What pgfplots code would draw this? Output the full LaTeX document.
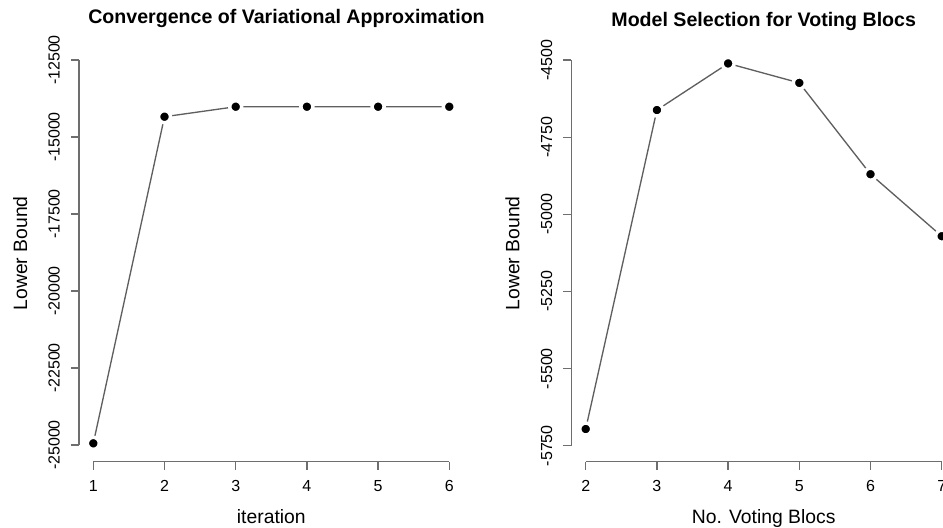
\documentclass[border=0pt]{standalone}
\usepackage{fontspec}
\setmainfont{Liberation Sans}
\usepackage{pgfplots}
\pgfplotsset{compat=1.18}

\definecolor{axgray}{RGB}{110,110,110}
\definecolor{lngray}{RGB}{95,95,95}

% R-like base graphics look: detached left/bottom axes, outward ticks
\pgfplotsset{rplot/.style={
  scale only axis, width=288.36pt, height=312.5pt,
  anchor=south west,
  axis x line*=bottom, axis y line*=left,
  axis line style={draw=none},
  scaled ticks=false,
  tick align=outside, major tick length=6pt,
  tick style={axgray, line width=1pt},
  ticklabel style={font=\fontsize{12}{14}\selectfont, inner sep=0pt},
  xticklabel style={anchor=base, yshift=-16.5pt},
  yticklabel style={rotate=90, anchor=base},
  yticklabel shift=8.5pt,
  xlabel style={font=\fontsize{14.5}{17}\selectfont,
    at={([yshift=-46.5pt]axis description cs:0.5,0)}, anchor=base},
  ylabel style={font=\fontsize{14.5}{17}\selectfont,
    at={([xshift=-39pt]axis description cs:0,0.5)}, anchor=base},
  title style={font=\bfseries\fontsize{14.7}{17}\selectfont, anchor=base},
  clip=false,
}}
% type="b" look: white halo leaves a gap between line and point
\pgfplotsset{rline/.style={lngray, line width=1pt, mark=*, mark size=4.5pt,
  mark options={fill=black, draw=white, line width=2.6pt}}}

\begin{document}
\begin{tikzpicture}
\useasboundingbox (0,0) rectangle (707.25pt,396pt);

% Left: convergence of the lower bound
\begin{axis}[rplot,
  at={(59.30pt,49.725pt)},
  xmin=0.8, xmax=6.2, ymin=-25542, ymax=-12013,
  xtick={1,2,3,4,5,6},
  xticklabels={1,2,3,4,5,6},
  ytick={-25000,-22500,-20000,-17500,-15000,-12500},
  yticklabels={-25000,-22500,-20000,-17500,-15000,-12500},
  xlabel={iteration}, ylabel={Lower Bound},
  title={Convergence of Variational Approximation},
  title style={at={([xshift=11.4pt,yshift=10.1pt]axis description cs:0.5,1)}},
]
\draw[axgray, line width=1pt] (axis cs:1,-25542) -- (axis cs:6,-25542);
\draw[axgray, line width=1pt] (axis cs:0.8,-25000) -- (axis cs:0.8,-12500);
\addplot[rline] coordinates {
  (1,-24945) (2,-14341) (3,-14016) (4,-14016) (5,-14016) (6,-14016)
};
\end{axis}

% Right: lower bound against number of blocs
\begin{axis}[rplot,
  at={(428.60pt,49.725pt)},
  xmin=1.8, xmax=7.2, ymin=-5801.9, ymax=-4451.3,
  xtick={2,3,4,5,6,7},
  xticklabels={2,3,4,5,6,7},
  ytick={-5750,-5500,-5250,-5000,-4750,-4500},
  yticklabels={-5750,-5500,-5250,-5000,-4750,-4500},
  xlabel={No. Voting Blocs}, ylabel={Lower Bound},
  title={Model Selection for Voting Blocs},
  title style={at={([yshift=7.9pt]axis description cs:0.5,1)}},
]
\draw[axgray, line width=1pt] (axis cs:2,-5801.9) -- (axis cs:7,-5801.9);
\draw[axgray, line width=1pt] (axis cs:1.8,-5750) -- (axis cs:1.8,-4500);
\addplot[rline] coordinates {
  (2,-5696) (3,-4662) (4,-4511) (5,-4574) (6,-4870) (7,-5071)
};
\end{axis}
\end{tikzpicture}
\end{document}
